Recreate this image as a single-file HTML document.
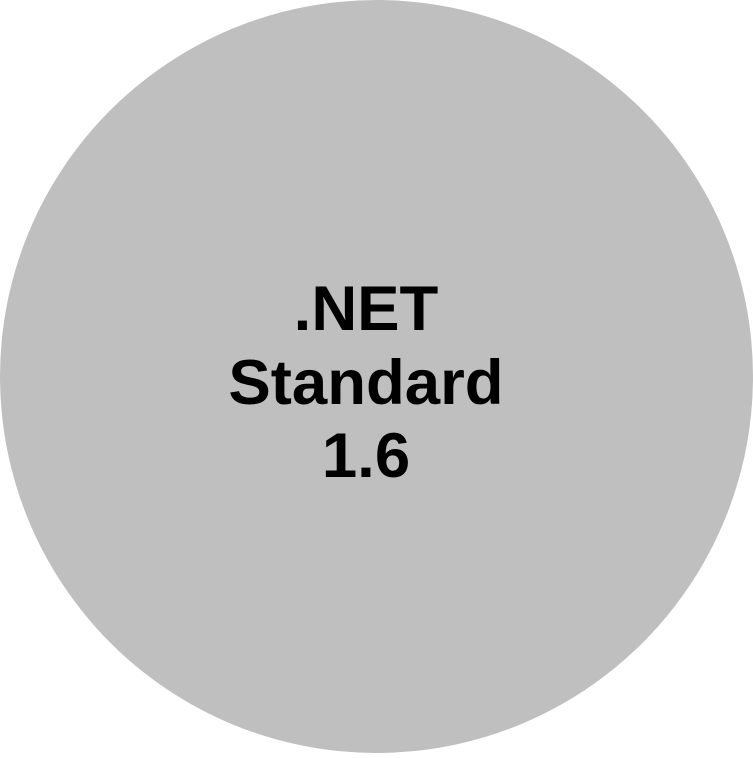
<!DOCTYPE html>
<html><head><style>
html,body{margin:0;padding:0;background:#fff;}
</style></head><body>
<svg width="753" height="753" xmlns="http://www.w3.org/2000/svg">
<circle cx="376.5" cy="376.5" r="376.5" fill="#bfbfbf"/>
<g font-family="Liberation Sans, Arial, sans-serif" font-weight="bold" font-size="63.5" text-anchor="middle" fill="#000">
<text x="366" y="330">.NET</text>
<text x="366" y="404">Standard</text>
<text x="366" y="477">1.6</text>
</g>
</svg>
</body></html>
